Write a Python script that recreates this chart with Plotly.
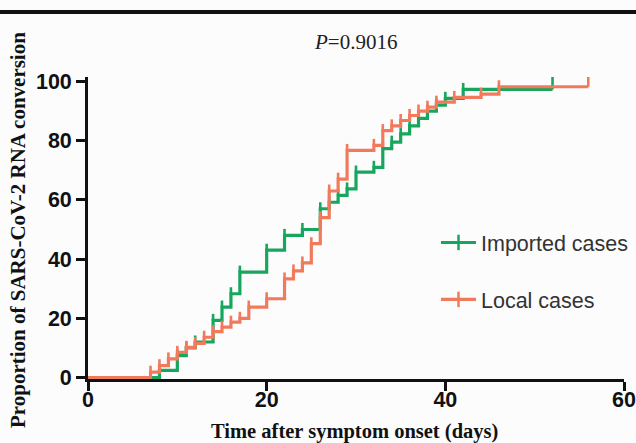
import plotly.graph_objects as go

# ---- data ----
imported_days = [0, 8, 10, 11, 12, 14, 15, 16, 17, 20, 22, 24, 26, 27, 28, 29, 30,
                 32, 33, 34, 35, 36, 37, 38, 39, 40, 42, 52]
imported_pct = [0, 2.4, 7.4, 10, 12, 19.3, 23.8, 28.3, 35.6, 43, 48, 50, 57, 59.2,
                61.5, 63.7, 69.4, 71, 77.3, 79.5, 82.3, 85, 87.5, 90, 92, 94.3, 97.3, 97.3]

local_days = [0, 7, 8, 9, 10, 11, 12, 13, 14, 15, 16, 17, 18, 20, 22, 23, 24, 25,
              26, 27, 28, 29, 32, 33, 34, 35, 36, 37, 38, 39, 41, 44, 46, 56]
local_pct = [0, 1.8, 4, 6.3, 8.5, 10.2, 11.5, 13.6, 15.5, 17, 18.7, 20, 23.8, 26.6,
             33.3, 36, 38.7, 45.2, 54, 63, 67, 76.7, 78.4, 83.4, 85, 86.8, 88.5, 90,
             91.3, 93, 94.6, 95.7, 98.2, 98.2]

x_ticks = [0, 20, 40, 60]
y_ticks = [0, 20, 40, 60, 80, 100]

series_names = ["Imported cases", "Local cases"]
series_colors = ["#16a65e", "#f27a5c"]

# ---- figure ----
W, H = 636, 443
ML, MR, MT, MB = 88, 12, 77, 64
PW, PH = W - ML - MR, H - MT - MB
Y0, Y1 = -0.5, 101.5
px_per_unit = PH / (Y1 - Y0)


def px_to_paper_y(py):
    return 1 - (py - MT) / PH


def px_to_paper_x(px):
    return (px - ML) / PW


fig = go.Figure()
for i, (days, pct) in enumerate([(imported_days, imported_pct), (local_days, local_pct)]):
    n = len(days)
    # censor-style tick marks rising above each step (style length, in data units)
    up = [0.0] + [6.5 / px_per_unit] * (n - 2) + [13.0 / px_per_unit]
    fig.add_trace(go.Scatter(
        x=days, y=pct, mode="lines", name=series_names[i], showlegend=False,
        line=dict(color=series_colors[i], width=3.2, shape="hv"),
        error_y=dict(type="data", symmetric=False, array=up, arrayminus=[0.0] * n,
                     color=series_colors[i], thickness=2.6, width=0),
        cliponaxis=False, legendgroup=series_names[i],
    ))
    # legend entry (no data of its own)
    fig.add_trace(go.Scatter(
        x=[None], y=[None], mode="lines+markers", name=series_names[i],
        line=dict(color=series_colors[i], width=3.2),
        marker=dict(symbol="line-ns", size=11, line=dict(color=series_colors[i], width=2.5)),
        legendgroup=series_names[i], showlegend=True,
    ))

tick_font = dict(family="Liberation Sans, Arial", size=21.5, color="#111", weight="bold")
common = dict(ticks="outside", ticklen=9, tickwidth=2.8, tickcolor="#111",
              showline=True, linewidth=2.8, linecolor="#111", showgrid=False,
              zeroline=False, tickfont=tick_font, layer="below traces", automargin=False,
              ticklabeloverflow="allow")
fig.update_xaxes(range=[0, 60], tickvals=x_ticks, ticklabelstandoff=-10, **common)
fig.update_yaxes(range=[Y0, Y1], tickvals=y_ticks, **common)

serif = "Liberation Serif, Times New Roman, serif"
fig.add_annotation(text="<i>P</i>=0.9016", xref="paper", yref="paper",
                   x=px_to_paper_x(355), y=px_to_paper_y(42), showarrow=False,
                   font=dict(family=serif, size=21, color="#222"),
                   xanchor="center", yanchor="middle")
fig.add_annotation(text="<b>Time after symptom onset (days)</b>", xref="paper", yref="paper",
                   x=px_to_paper_x(354), y=px_to_paper_y(431), showarrow=False,
                   font=dict(family=serif, size=20.5, color="#111"),
                   xanchor="center", yanchor="middle")
fig.add_annotation(text="<b>Proportion of SARS-CoV-2 RNA conversion</b>", xref="paper", yref="paper",
                   x=px_to_paper_x(18), y=px_to_paper_y(230), showarrow=False, textangle=-90,
                   font=dict(family=serif, size=21, color="#111"),
                   xanchor="center", yanchor="middle")

# top rule line
fig.add_shape(type="line", xref="paper", yref="paper",
              x0=px_to_paper_x(0), x1=px_to_paper_x(W),
              y0=px_to_paper_y(12), y1=px_to_paper_y(12),
              line=dict(color="#111", width=4))

fig.update_layout(
    width=W, height=H,
    margin=dict(l=ML, r=MR, t=MT, b=MB, autoexpand=False),
    paper_bgcolor="#fcfcfd", plot_bgcolor="#fcfcfd",
    showlegend=True,
    legend=dict(x=px_to_paper_x(436), y=px_to_paper_y(222),
                xanchor="left", yanchor="top", bgcolor="rgba(0,0,0,0)",
                font=dict(family="Liberation Sans, Arial", size=21.5, color="#333"),
                tracegroupgap=26, itemwidth=35),
)

fig.write_html("out.html", config={"displayModeBar": False},
               post_script="document.body.style.margin='0';document.body.style.padding='0';")
